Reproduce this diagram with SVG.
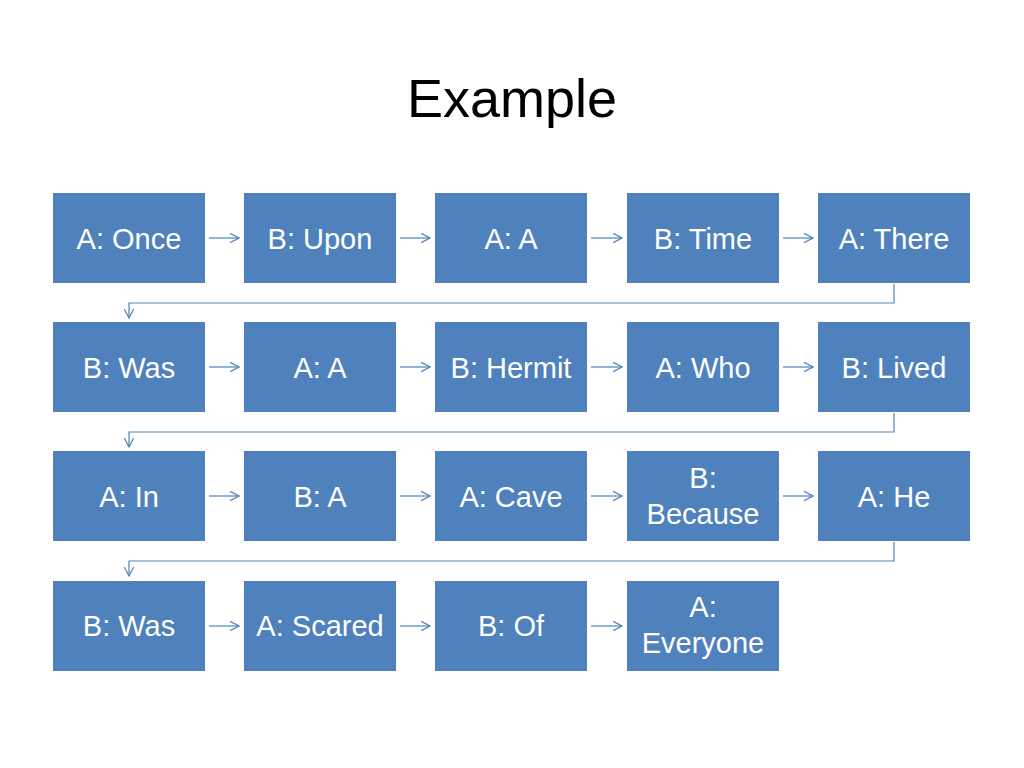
<svg xmlns="http://www.w3.org/2000/svg" width="1024" height="768" viewBox="0 0 1024 768">
<defs>
<style>
.box{fill:#4F81BD;}
.t{font-family:"Liberation Sans",Arial,sans-serif;font-size:29px;fill:#FFFFFF;text-anchor:middle;}
.c{fill:none;stroke:#4F81BD;stroke-width:1.2;marker-end:url(#ah);}
.title{font-family:"Liberation Sans",Arial,sans-serif;font-size:54px;fill:#000000;text-anchor:middle;}
</style>
<marker id="ah" viewBox="0 0 10 10" refX="9.5" refY="5" markerWidth="10" markerHeight="10" markerUnits="userSpaceOnUse" orient="auto">
<path d="M0,0 L9.5,5 L0,10" fill="none" stroke="#4F81BD" stroke-width="1.2"/>
</marker>
</defs>
<rect width="1024" height="768" fill="#FFFFFF"/>
<text class="title" x="512" y="117">Example</text>

<g id="connectors">
<path class="c" d="M209,238 H239"/>
<path class="c" d="M400,238 H430"/>
<path class="c" d="M591,238 H622"/>
<path class="c" d="M783,238 H813"/>
<path class="c" d="M894,284 V303 H129 V318"/>
<path class="c" d="M209,367 H239"/>
<path class="c" d="M400,367 H430"/>
<path class="c" d="M591,367 H622"/>
<path class="c" d="M783,367 H813"/>
<path class="c" d="M894,413 V432 H129 V447"/>
<path class="c" d="M209,496 H239"/>
<path class="c" d="M400,496 H430"/>
<path class="c" d="M591,496 H622"/>
<path class="c" d="M783,496 H813"/>
<path class="c" d="M894,542 V561 H129 V576"/>
<path class="c" d="M209,626 H239"/>
<path class="c" d="M400,626 H430"/>
<path class="c" d="M591,626 H622"/>
</g>

<g id="n1"><rect class="box" x="53" y="193" width="152" height="90"/><text class="t" x="129" y="248.5">A: Once</text></g>
<g id="n2"><rect class="box" x="244" y="193" width="152" height="90"/><text class="t" x="320" y="248.5">B: Upon</text></g>
<g id="n3"><rect class="box" x="435" y="193" width="152" height="90"/><text class="t" x="511" y="248.5">A: A</text></g>
<g id="n4"><rect class="box" x="627" y="193" width="152" height="90"/><text class="t" x="703" y="248.5">B: Time</text></g>
<g id="n5"><rect class="box" x="818" y="193" width="152" height="90"/><text class="t" x="894" y="248.5">A: There</text></g>

<g id="n6"><rect class="box" x="53" y="322" width="152" height="90"/><text class="t" x="129" y="377.5">B: Was</text></g>
<g id="n7"><rect class="box" x="244" y="322" width="152" height="90"/><text class="t" x="320" y="377.5">A: A</text></g>
<g id="n8"><rect class="box" x="435" y="322" width="152" height="90"/><text class="t" x="511" y="377.5">B: Hermit</text></g>
<g id="n9"><rect class="box" x="627" y="322" width="152" height="90"/><text class="t" x="703" y="377.5">A: Who</text></g>
<g id="n10"><rect class="box" x="818" y="322" width="152" height="90"/><text class="t" x="894" y="377.5">B: Lived</text></g>

<g id="n11"><rect class="box" x="53" y="451" width="152" height="90"/><text class="t" x="129" y="506.5">A: In</text></g>
<g id="n12"><rect class="box" x="244" y="451" width="152" height="90"/><text class="t" x="320" y="506.5">B: A</text></g>
<g id="n13"><rect class="box" x="435" y="451" width="152" height="90"/><text class="t" x="511" y="506.5">A: Cave</text></g>
<g id="n14"><rect class="box" x="627" y="451" width="152" height="90"/><text class="t" x="703" y="488">B:</text><text class="t" x="703" y="524">Because</text></g>
<g id="n15"><rect class="box" x="818" y="451" width="152" height="90"/><text class="t" x="894" y="506.5">A: He</text></g>

<g id="n16"><rect class="box" x="53" y="581" width="152" height="90"/><text class="t" x="129" y="636">B: Was</text></g>
<g id="n17"><rect class="box" x="244" y="581" width="152" height="90"/><text class="t" x="320" y="636">A: Scared</text></g>
<g id="n18"><rect class="box" x="435" y="581" width="152" height="90"/><text class="t" x="511" y="636">B: Of</text></g>
<g id="n19"><rect class="box" x="627" y="581" width="152" height="90"/><text class="t" x="703" y="617">A:</text><text class="t" x="703" y="653">Everyone</text></g>
</svg>
